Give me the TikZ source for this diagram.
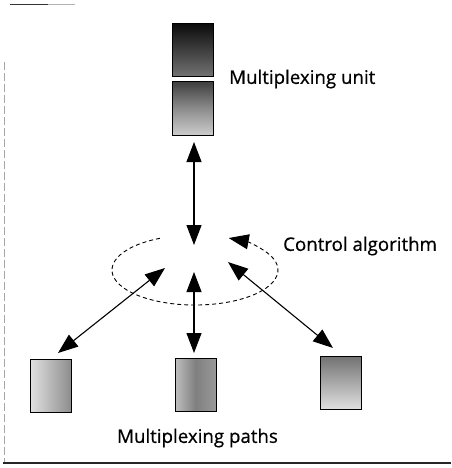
\documentclass[tikz,border=0pt]{standalone}
\usepackage{fontspec}
\setmainfont{Open Sans}
\newfontfamily\lblfont[FakeBold=0.6]{Open Sans}
\usetikzlibrary{arrows.meta}
\begin{document}
\begin{tikzpicture}[x=1pt,y=-1pt,
  box/.style={draw=black, line width=1pt, minimum width=41pt, minimum height=53pt, inner sep=0pt, shading=axis},
  lbl/.style={font=\lblfont\fontsize{18.7}{21}\selectfont, inner sep=0pt},
  dbl/.style={line width=1.1pt, {Triangle[length=20pt,width=15pt]}-{Triangle[length=20pt,width=15pt]}},
  frame/.style={line width=1pt}
]
\useasboundingbox (0,0) rectangle (451,468);
% frame remnants
\draw[frame, gray!70, dash pattern=on 8pt off 3pt] (4,62) -- (4,463);
\draw[line width=1.6pt, black!85] (3,463) -- (451,463);
\draw[frame, black!80] (10,5) -- (48,5);
\draw[frame, gray!60] (48,5) -- (75,5);
% multiplexing unit
\node[box, top color=black!95, bottom color=black!55] (u1) at (192.5,50.5) {};
\node[box, shading angle=225, top color=black!75, bottom color=black!20, middle color=black!45] (u2) at (192.5,108.5) {};
\node[lbl, anchor=west] (ulbl) at (229,79) {Multiplexing unit};
% paths
\node[box, left color=black!12, right color=black!45] (p1) at (51,386) {};
\node[box, left color=black!25, right color=black!40, middle color=black!50] (p2) at (195.5,384.5) {};
\node[box, shading angle=225, top color=black!55, bottom color=black!12] (p3) at (341,383) {};
\node[lbl] (plbl) at (197.5,438) {Multiplexing paths};
% control algorithm
\node[lbl, anchor=west] (clbl) at (283,246) {Control algorithm};
\coordinate (ctop) at (194,245);
\coordinate (cbot) at (194,272);
\coordinate (cleft) at (165,268);
\coordinate (cright) at (228,262);
\coordinate (utip) at (194,142);
\coordinate (p1tip) at (58,353);
\coordinate (p2tip) at (194,353);
\coordinate (p3tip) at (333,348);
\draw[dbl] (utip) -- (ctop);
\draw[dbl] (cbot) -- (p2tip);
\draw[dbl] (cleft) -- (p1tip);
\draw[dbl] (cright) -- (p3tip);
\coordinate (ellstart) at (159.9,238.3);
\draw[line width=0.9pt, dash pattern=on 4pt off 3pt, -{Triangle[length=20pt,width=15pt]}] (ellstart) arc[start angle=115, end angle=426, x radius=83pt, y radius=35pt];
\end{tikzpicture}
\end{document}
